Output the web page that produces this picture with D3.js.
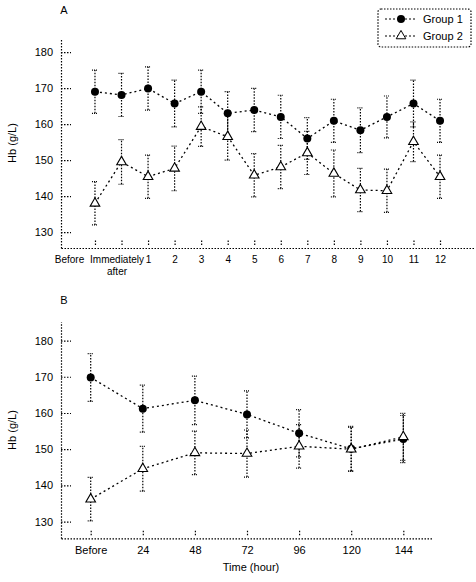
<!DOCTYPE html>
<html><head><meta charset="utf-8">
<script src="https://cdn.jsdelivr.net/npm/d3@7"></script>
<style>body{margin:0;background:#fff}svg{display:block}text{font-family:"Liberation Sans",Arial,sans-serif;fill:#000}</style>
</head><body><svg id="c" width="476" height="582"></svg>
<script>
// Panel A: days
const catsA = ["Before","Immediately after","1","2","3","4","5","6","7","8","9","10","11","12"];
const g1A = [169,168.1,169.9,165.7,169,163,163.9,162,156,160.9,158.3,162,165.7,160.9];
const g1AErr = [6,6,6,6.5,6,6,6,6,5.8,6,6.2,5.8,6.5,6];
const g2A = [138,149.5,145.4,147.7,159.3,156.5,145.8,148.1,152,146.3,141.7,141.5,155.1,145.4];
const g2AErr = [6,6.2,6,6.2,5.5,6.5,6,6,6,6.5,6,6,5.5,6];
// Panel B: hours
const catsB = ["Before","24","48","72","96","120","144"];
const g1B = [169.8,161.2,163.5,159.6,154.4,150.1,152.8];
const g1BErr = [6.6,6.5,6.7,6.5,6.5,6.2,6.5];
const g2B = [136.2,144.6,149,148.8,150.8,150,153.4];
const g2BErr = [6,6.2,6,6.5,6,6,6.5];
const yTicks = [130,140,150,160,170,180];
const seriesNames = ["Group 1","Group 2"];

const svg = d3.select("#c");
const dot = "1.5,1.5";

function panel(cats, s1, e1, s2, e2, xr, xpad, yd, yr, label, labelY, xTitle, xFont){
  const x = d3.scalePoint().domain(cats).range(xr).padding(xpad);
  const y = d3.scaleLinear().domain(yd).range(yr);
  const ya = svg.append("g").attr("transform",`translate(${xr[0]},0)`)
    .call(d3.axisLeft(y).tickValues(yTicks).tickSizeInner(-10).tickSizeOuter(0).tickPadding(8));
  const xa = svg.append("g").attr("transform",`translate(0,${yr[0]})`)
    .call(d3.axisBottom(x).tickSizeInner(-7).tickSizeOuter(0).tickPadding(8));
  [ya,xa].forEach(a=>{
    a.selectAll("path,line").attr("stroke","#000").attr("stroke-width",1.2).attr("stroke-dasharray",dot);
    a.selectAll("text").attr("font-size",11).attr("fill","#000");
  });
  xa.selectAll("text").attr("font-size",xFont);
  xa.selectAll(".tick line").attr("y1",-3).attr("y2",-8);
  xa.selectAll(".tick text").each(function(d){
    const t=d3.select(this);
    if(d==="Before" && cats.length>7){ t.attr("dx",-26); }
    if(d==="Immediately after"){
      t.text(null);
      t.append("tspan").attr("x",-5).text("Immediately");
      t.append("tspan").attr("x",-5).attr("dy","1.15em").text("after");
    }
  });
  svg.append("text").attr("x",xr[0]+3).attr("y",labelY).attr("font-size",11).attr("text-anchor","middle").text(label);
  const ymid = (yr[0]+yr[1])/2;
  svg.append("text").attr("transform",`translate(16,${ymid}) rotate(-90)`).attr("text-anchor","middle").attr("font-size",11).text("Hb (g/L)");
  if(xTitle) svg.append("text").attr("x",(xr[0]+xr[1])/2+4).attr("y",yr[0]+33).attr("text-anchor","middle").attr("font-size",11).text(xTitle);

  const line = d3.line().x((d,i)=>x(cats[i])).y(d=>y(d));
  [[s1,e1,true],[s2,e2,false]].forEach(([s,e,filled])=>{
    svg.append("path").attr("d",line(s)).attr("fill","none").attr("stroke","#000").attr("stroke-width",1.3).attr("stroke-dasharray","2,3");
    const g = svg.append("g");
    s.forEach((v,i)=>{
      const cx=x(cats[i]);
      g.append("line").attr("x1",cx).attr("x2",cx).attr("y1",y(v-e[i])).attr("y2",y(v+e[i])).attr("stroke","#000").attr("stroke-width",1.2).attr("stroke-dasharray",dot);
      [v-e[i],v+e[i]].forEach(b=>g.append("line").attr("x1",cx-3).attr("x2",cx+3).attr("y1",y(b)).attr("y2",y(b)).attr("stroke","#000").attr("stroke-width",1.2).attr("stroke-dasharray","1,1"));
    });
    s.forEach((v,i)=>{
      const cx=x(cats[i]);
      if(filled) g.append("circle").attr("cx",cx).attr("cy",y(v)).attr("r",4).attr("fill","#000");
      else g.append("path").attr("d",d3.symbol(d3.symbolTriangle,40)()).attr("transform",`translate(${cx},${y(v)})`).attr("fill","#fff").attr("stroke","#000").attr("stroke-width",1.1);
    });
  });
}

panel(catsA,g1A,g1AErr,g2A,g2AErr,[61,474],1.28,[125.6,183.9],[248,38],"A",14,null,10);
panel(catsB,g1B,g1BErr,g2B,g2BErr,[61,433],0.57,[125.4,185.2],[538.3,321.7],"B",304,"Time (hour)",11);

// legend
const lg = svg.append("g");
lg.append("rect").attr("x",378).attr("y",9).attr("width",93).attr("height",38).attr("fill","#fff").attr("stroke","#000").attr("stroke-width",1.2).attr("stroke-dasharray",dot).attr("rx",3);
seriesNames.forEach((n,i)=>{
  const yy = 19+i*17;
  lg.append("line").attr("x1",385).attr("x2",417).attr("y1",yy).attr("y2",yy).attr("stroke","#000").attr("stroke-width",1.2).attr("stroke-dasharray","2,2");
  if(i===0) lg.append("circle").attr("cx",401).attr("cy",yy).attr("r",4).attr("fill","#000");
  else lg.append("path").attr("d",d3.symbol(d3.symbolTriangle,40)()).attr("transform",`translate(401,${yy})`).attr("fill","#fff").attr("stroke","#000");
  lg.append("text").attr("x",423).attr("y",yy+4).attr("font-size",11).text(n);
});
</script></body></html>
